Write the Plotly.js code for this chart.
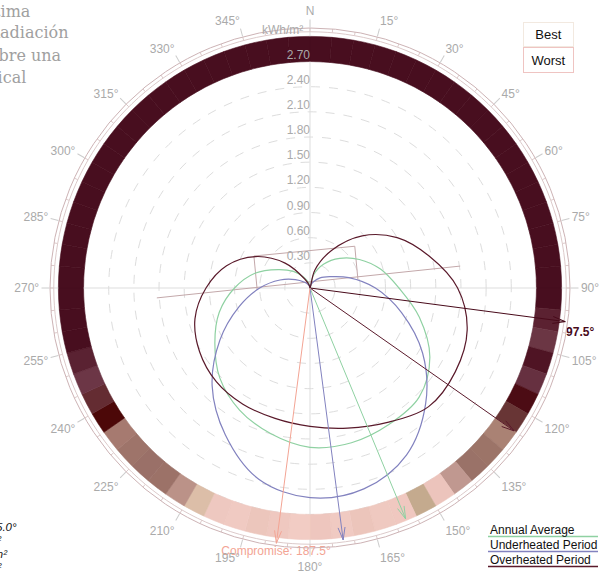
<!DOCTYPE html>
<html><head><meta charset="utf-8">
<script src="https://cdn.plot.ly/plotly-3.0.1.min.js"></script>
<style>html,body{margin:0;padding:0;background:#fff}#chart{width:600px;height:576px}</style>
</head><body><div id="chart"></div>
<script>
// ---------- data ----------
const directions = [0,15,30,45,60,75,90,105,120,135,150,165,180,195,210,225,240,255,270,285,300,315,330,345,360];
const annualAverage     = [0,0.16,0.33,0.50,0.68,0.87,1.06,1.35,1.65,1.84,1.88,1.91,1.90,1.80,1.68,1.52,1.31,1.12,0.90,0.68,0.44,0.28,0.15,0.06,0];
const underheatedPeriod = [0,0.04,0.09,0.17,0.27,0.48,0.78,1.13,1.55,1.95,2.30,2.48,2.50,2.36,2.02,1.65,1.24,0.88,0.60,0.37,0.20,0.10,0.05,0.02,0];
const overheatedPeriod  = [0,0.22,0.52,0.88,1.20,1.47,1.76,1.94,2.00,2.00,1.85,1.73,1.65,1.61,1.60,1.58,1.52,1.42,1.24,1.03,0.75,0.42,0.12,0.03,0];

const arrowNames  = ['Overheated worst','Overheated max','Annual best','Underheated best','Compromise'];
const arrowTheta  = [97.5,125,157.5,172.5,187.5];
const arrowLength = [3.07,2.97,2.98,3.03,3.07];

const wallTheta = [266.3,81.7];
const wallR     = [1.83,1.81];
const boxTheta  = [267.8,299.7,47,80.5];
const boxR      = [0.63,0.77,0.73,0.58];

const radialTicks = [0.3,0.6,0.9,1.2,1.5,1.8,2.1,2.4,2.7];
const angularTicks = [0,15,30,45,60,75,90,105,120,135,150,165,180,195,210,225,240,255,270,285,300,315,330,345];
const angularLabels = ['N','15°','30°','45°','60°','75°','90°','105°','120°','135°','150°','165°','180°','195°','210°','225°','240°','255°','270°','285°','300°','315°','330°','345°'];

// ring segments, 5° each, starting at 0°
const D = '#480e1f';
const ringColors = [
 D,D,D,D,D,D,D,D,D,D,D,D,D,D,D,D,D,D,D,            // 0-95
 '#5b2131','#6b3644','#4f1424','#663040','#4c0c14', // 95-120
 '#683535','#aa8274','#9c7468','#9a7268','#c09890', // 120-145
 '#ecc4bc','#c4aa8e','#f0c8c0','#efc9c0','#ecc5bb', // 145-170
 '#f0cac2','#eec6be','#f2ccc4','#efc8c0','#ecc6bc', // 170-195
 '#f0cac2','#eec8c0','#dcbea8','#bb9288','#9c7268', // 195-220
 '#9a7068','#9e746a','#a67a70','#4c0808','#642c32', // 220-245
 '#6c3646','#5a2232',                               // 245-255
 D,D,D,D,D,D,D,D,D,D,D,D,D,D,D,D,D,D,D,D,D          // 255-360
];

// ---------- styles ----------
const GREEN = '#8fd1a2', BLUE = '#8282bf', MAROON = '#5a1a2b', DARK = '#480a1a', SALMON = '#f3a494';
const arrowColors = [DARK, MAROON, GREEN, BLUE, SALMON];
const GRAY = '#aaaaaa';
const FONT = 'Liberation Sans, Arial, sans-serif';
const RMAX = 3.1;

const W = 600, H = 576;
const px = x => x/W, py = y => 1 - y/H;
const cx = 310, cy = 288, R = 260;
const pxPerUnit = R / RMAX;

const traces = [];

// spokes (N, E, S, W) - stop under band, resume outside it
[0,90,180,270].forEach(a => {
  traces.push({type:'scatterpolar', mode:'lines', r:[0,2.7,null,3.0,RMAX], theta:[a,a,null,a,a],
    line:{color:'#dddddd', width:1}, hoverinfo:'skip', showlegend:false});
});

// colored ring
traces.push({type:'barpolar', r:ringColors.map(()=>0.3), base:ringColors.map(()=>2.7),
  theta:ringColors.map((c,i)=>i*5+2.5), width:ringColors.map(()=>5),
  marker:{color:ringColors, line:{color:ringColors, width:0.6}}, hoverinfo:'skip', showlegend:false});

// inner thin circle & small ticks between the outer circles
const circT = []; for (let a=0; a<=360; a+=2) circT.push(a);
traces.push({type:'scatterpolar', mode:'lines', r:circT.map(()=>3.055), theta:circT,
  line:{color:'#dccaca', width:1}, hoverinfo:'skip', showlegend:false});
const tkR = [], tkT = [];
for (let a=0; a<360; a+=5) { tkR.push(3.055,RMAX,null); tkT.push(a,a,null); }
traces.push({type:'scatterpolar', mode:'lines', r:tkR, theta:tkT,
  line:{color:'#dccaca', width:1}, hoverinfo:'skip', showlegend:false});

// wall + window outline
traces.push({type:'scatterpolar', mode:'lines', r:wallR, theta:wallTheta,
  line:{color:'#c3a8aa', width:1}, hoverinfo:'skip', showlegend:false});
traces.push({type:'scatterpolar', mode:'lines', r:boxR, theta:boxTheta,
  line:{color:'#c3a8aa', width:1}, hoverinfo:'skip', showlegend:false});

// curves
[[annualAverage,GREEN],[underheatedPeriod,BLUE],[overheatedPeriod,MAROON]].forEach(([vals,col]) => {
  traces.push({type:'scatterpolar', mode:'lines', r:vals, theta:directions,
    line:{color:col, width:1.2, shape:'spline', smoothing:1}, hoverinfo:'skip', showlegend:false});
});

// arrows with open chevron heads
const headLen = 0.15, headHalfPx = 3.5;
arrowTheta.forEach((t,i) => {
  const L = arrowLength[i];
  const back = L - headLen;
  const dTheta = headHalfPx / (back * pxPerUnit) * 180 / Math.PI;
  traces.push({type:'scatterpolar', mode:'lines', r:[0,L,null,back,L,back], theta:[t,t,null,t-dTheta,t,t+dTheta],
    line:{color:arrowColors[i], width:1}, cliponaxis:false, hoverinfo:'skip', showlegend:false});
});

// arrow labels
traces.push({type:'scatterpolar', mode:'text', r:[RMAX], theta:[arrowTheta[0]+2.5],
  text:[arrowTheta[0].toFixed(1)+'°'], textposition:'middle right', cliponaxis:false,
  textfont:{family:FONT, size:12, color:DARK, weight:'bold'}, hoverinfo:'skip', showlegend:false});
traces.push({type:'scatterpolar', mode:'text', r:[RMAX], theta:[arrowTheta[4]],
  text:['Compromise: '+arrowTheta[4].toFixed(1)+'°'], textposition:'bottom center', cliponaxis:false,
  textfont:{family:FONT, size:12, color:SALMON}, hoverinfo:'skip', showlegend:false});

// radial tick labels
traces.push({type:'scatterpolar', mode:'text', r:radialTicks, theta:radialTicks.map(()=>0),
  text:radialTicks.map(v=>v.toFixed(2)), textposition:'top left',
  textfont:{family:FONT, size:12, color:GRAY}, hoverinfo:'skip', showlegend:false});

const annotations = [];
function ann(text, x, y, opts) {
  annotations.push(Object.assign({text, xref:'paper', yref:'paper', x:px(x), y:py(y),
    showarrow:false, xanchor:'left', yanchor:'middle', font:{family:FONT, size:12, color:'#222'}}, opts||{}));
}
// title (cut off at left edge)
const titleLines = ['Orientación Óptima','de Máxima Radiación','Incidente sobre una','Superficie Vertical'];
const titleRight = [33,71,64,28];
titleLines.forEach((t,i)=> ann(t, titleRight[i], 11+i*22, {xanchor:'right', font:{family:'DejaVu Serif, serif', size:16, color:'#a0a0a0'}}));
// bottom-left summary (cut off)
const summary = ['Orientación: 165.0°','Anual: 1.89 kWh/m²','Periodo frío: 2.47 kWh/m²','Periodo cálido: 1.65 kWh/m²'];
const summaryRight = [19,4,10,5];
summary.forEach((t,i)=> ann(t, summaryRight[i], 527+i*13.3, {xanchor:'right', font:{family:FONT, size:11.5, color:'#111', style:'italic'}}));
// unit
ann('kWh/m²', 305, 30, {xanchor:'right', font:{family:FONT, size:12, color:GRAY}});
// best / worst boxes
ann('Best', 548.5, 34.5, {xanchor:'center', width:49, height:23, borderpad:0, bordercolor:'#f2e9e0', borderwidth:1, font:{family:FONT, size:13, color:'#111'}});
ann('Worst', 548.5, 60, {xanchor:'center', width:49, height:24, borderpad:0, bordercolor:'#efc4c2', borderwidth:1, font:{family:FONT, size:13, color:'#111'}});
// legend
const legendNames = ['Annual Average','Underheated Period','Overheated Period'];
const legendColors = [GREEN, BLUE, MAROON];
const shapes = [];
legendNames.forEach((n,i)=>{
  ann(n, 488, 529.5+i*15.2, {font:{family:FONT, size:12, color:'#111'}});
  shapes.push({type:'line', xref:'paper', yref:'paper', x0:px(488), x1:px(598), y0:py(536.5+i*15), y1:py(536.5+i*15),
    line:{color:legendColors[i], width:1.3}});
});

const layout = {
  width:W, height:H, margin:{l:0,r:0,t:0,b:0}, paper_bgcolor:'#fff', showlegend:false,
  polar:{
    domain:{x:[px(cx-R), px(cx+R)], y:[py(cy+R), py(cy-R)]},
    bgcolor:'rgba(0,0,0,0)',
    angularaxis:{direction:'clockwise', rotation:90, tickmode:'array', tickvals:angularTicks, ticktext:angularLabels,
      showgrid:false, showline:true, linecolor:'#cdb3b5', linewidth:1,
      ticks:'outside', ticklen:8, tickcolor:'#cccccc', tickfont:{family:FONT, size:12, color:GRAY}},
    radialaxis:{range:[0,RMAX], tickmode:'array', tickvals:radialTicks, showticklabels:false, ticks:'',
      showline:false, gridcolor:'#dddddd', griddash:'dash', gridwidth:1}
  },
  annotations, shapes
};
Plotly.newPlot('chart', traces, layout, {staticPlot:true, displayModeBar:false});
</script></body></html>
